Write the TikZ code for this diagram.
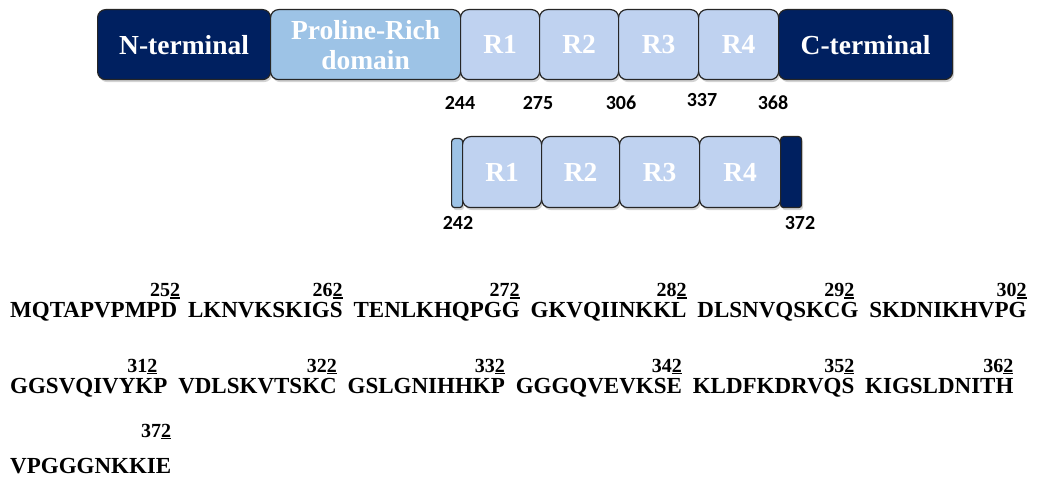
\documentclass[tikz,border=0pt]{standalone}
\usepackage{fontspec}
\setmainfont{Liberation Serif}
\newfontfamily\calib{Carlito}
\usetikzlibrary{shadows}
\definecolor{navy}{RGB}{0,32,96}
\definecolor{prolblue}{RGB}{157,195,230}
\definecolor{repblue}{RGB}{191,210,240}
\newcommand{\uldigit}[1]{\setbox0\hbox{#1}\rlap{\rule[-2pt]{\wd0}{1.5pt}}\box0}
\begin{document}
\begin{tikzpicture}[x=1pt,y=-1pt,
  dom/.style={draw=black!85, line width=1.2pt, rounded corners=8pt, inner sep=0pt,
    anchor=north west, text=white, font=\bfseries\fontsize{27.5}{28}\selectfont, align=center,
    drop shadow={shadow xshift=1.5pt, shadow yshift=-2.5pt, opacity=0.35}},
  darkdom/.style={dom, fill=navy},
  proldom/.style={dom, fill=prolblue},
  repdom/.style={dom, fill=repblue},
  poslabel/.style={font=\calib\bfseries\fontsize{20}{22}\selectfont, inner sep=0pt},
  seq/.style={font=\bfseries\fontsize{23}{26}\selectfont, inner sep=0pt, anchor=base west},
  seqnum/.style={font=\bfseries\fontsize{20}{22}\selectfont, inner sep=0pt, anchor=base east, yshift=21pt},
  nxt/.style={xshift=10.5pt},
]
\useasboundingbox (0,0) rectangle (1052,478);
% full-length protein
\node[darkdom, minimum width=173pt, minimum height=70pt] (nterm) at (97,9) {N-terminal};
\node[proldom, minimum width=190pt, minimum height=70pt] (prd) at (270,9) {Proline-Rich\\[2pt]domain};
\node[repdom, minimum width=79pt, minimum height=70pt] (r1) at (460,9) {R1};
\node[repdom, minimum width=79pt, minimum height=70pt] (r2) at (539,9) {R2};
\node[repdom, minimum width=80pt, minimum height=70pt] (r3) at (618,9) {R3};
\node[repdom, minimum width=80pt, minimum height=70pt] (r4) at (698,9) {R4};
\node[darkdom, minimum width=174pt, minimum height=70pt] (cterm) at (778,9) {C-terminal};
\node[poslabel] (p244) at (460,103) {244};
\node[poslabel] (p275) at (538,103) {275};
\node[poslabel] (p306) at (621,103) {306};
\node[poslabel] (p337) at (702,100) {337};
\node[poslabel] (p368) at (773,103) {368};
% fragment
\node[proldom, rounded corners=3pt, minimum width=11pt, minimum height=69pt] (pbar) at (451,138) {};
\node[repdom, minimum width=79pt, minimum height=71pt] (f1) at (462,136) {R1};
\node[repdom, minimum width=78pt, minimum height=71pt] (f2) at (541,136) {R2};
\node[repdom, minimum width=80pt, minimum height=71pt] (f3) at (619,136) {R3};
\node[repdom, minimum width=81pt, minimum height=71pt] (f4) at (699,136) {R4};
\node[darkdom, rounded corners=3pt, minimum width=21pt, minimum height=71pt] (cbar) at (780,136) {};
\node[poslabel] (p242) at (458,223) {242};
\node[poslabel] (p372) at (800,223) {372};
% sequence
\node[seq] (a1) at (10,318) {MQTAPVPMPD};
\node[seq] (a2) at ([nxt]a1.base east) {LKNVKSKIGS};
\node[seq] (a3) at ([nxt]a2.base east) {TENLKHQPGG};
\node[seq] (a4) at ([nxt]a3.base east) {GKVQIINKKL};
\node[seq] (a5) at ([nxt]a4.base east) {DLSNVQSKCG};
\node[seq] (a6) at ([nxt]a5.base east) {SKDNIKHVPG};
\node[seqnum, xshift=3pt] (n1) at (a1.base east) {25\uldigit{2}};
\node[seqnum] (n2) at (a2.base east) {26\uldigit{2}};
\node[seqnum] (n3) at (a3.base east) {27\uldigit{2}};
\node[seqnum] (n4) at (a4.base east) {28\uldigit{2}};
\node[seqnum, xshift=-4pt] (n5) at (a5.base east) {29\uldigit{2}};
\node[seqnum] (n6) at (a6.base east) {30\uldigit{2}};
\node[seq] (b1) at (10,393) {GGSVQIVYKP};
\node[seq] (b2) at ([nxt]b1.base east) {VDLSKVTSKC};
\node[seq] (b3) at ([nxt]b2.base east) {GSLGNIHHKP};
\node[seq] (b4) at ([nxt]b3.base east) {GGGQVEVKSE};
\node[seq] (b5) at ([nxt]b4.base east) {KLDFKDRVQS};
\node[seq] (b6) at ([nxt]b5.base east) {KIGSLDNITH};
\node[seqnum, xshift=-10pt] (m1) at (b1.base east) {31\uldigit{2}};
\node[seqnum] (m2) at (b2.base east) {32\uldigit{2}};
\node[seqnum] (m3) at (b3.base east) {33\uldigit{2}};
\node[seqnum] (m4) at (b4.base east) {34\uldigit{2}};
\node[seqnum] (m5) at (b5.base east) {35\uldigit{2}};
\node[seqnum] (m6) at (b6.base east) {36\uldigit{2}};
\node[seq] (c1) at (10,473) {VPGGGNKKIE};
\node[seqnum, yshift=15pt] (k1) at (c1.base east) {37\uldigit{2}};
\end{tikzpicture}
\end{document}
